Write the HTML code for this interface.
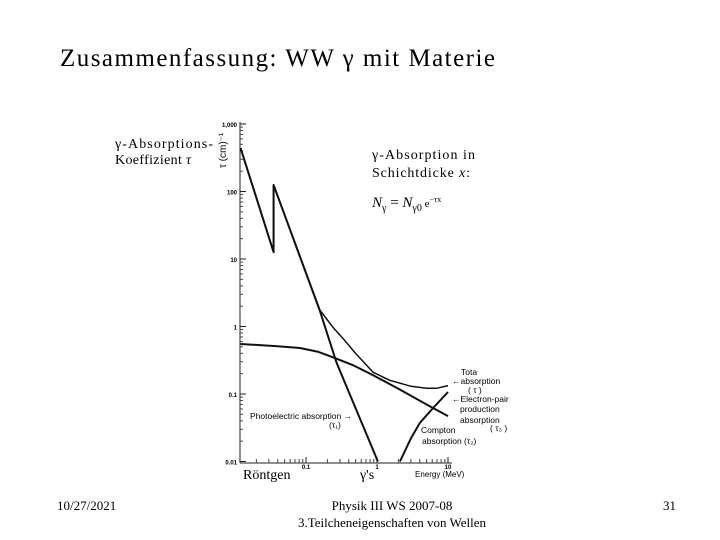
<!DOCTYPE html>
<html><head><meta charset="utf-8"><style>
body{margin:0;background:#fff;}
svg{display:block;font-family:"Liberation Serif",serif;}
.s{font-family:"Liberation Sans",sans-serif;}
</style></head><body>
<svg id="c" width="720" height="540" viewBox="0 0 720 540">
<text x="60" y="66" font-size="25" textLength="435">Zusammenfassung: WW γ mit Materie</text>
<text x="115" y="148" font-size="14" textLength="98">γ-Absorptions-</text>
<text x="115" y="164" font-size="14" textLength="76">Koeffizient <tspan font-style="italic">τ</tspan></text>
<text x="0" y="0" font-size="10" class="s" transform="translate(226,168) rotate(-90)">τ (cm)⁻¹</text>
<text x="372" y="159" font-size="14" textLength="103">γ-Absorption in</text>
<text x="372" y="177" font-size="14" textLength="98">Schichtdicke <tspan font-style="italic">x</tspan>:</text>
<text x="372" y="207" font-size="15"><tspan font-style="italic">N</tspan><tspan font-size="10" dy="4">γ</tspan><tspan dy="-4"> = </tspan><tspan font-style="italic">N</tspan><tspan font-size="10" dy="4">γ0</tspan><tspan dy="-4" font-size="11"> e</tspan><tspan font-size="8" dy="-5">−τx</tspan></text>
<g id="axes"></g>
<g id="curves"></g>
<g class="s" font-size="8.5">
<text x="461" y="375">Tota</text>
<text x="452" y="384">←absorption</text>
<text x="468" y="393">( τ )</text>
<text x="452" y="402">←Electron-pair</text>
<text x="460" y="412">production</text>
<text x="460" y="423">absorption</text>
<text x="490" y="431">( τ₃ )</text>
<text x="421" y="433">Compton</text>
<text x="422" y="444">absorption (τ₂)</text>
<text x="250" y="419">Photoelectric absorption →</text>
<text x="329" y="428">(τ₁)</text>
<text x="415" y="477" font-size="8">Energy (MeV)</text>
</g>
<text x="243" y="479" font-size="14">Röntgen</text>
<text x="360" y="479" font-size="14">γ's</text>
<text x="57" y="510" font-size="13">10/27/2021</text>
<text x="392" y="510" font-size="13" text-anchor="middle">Physik III WS 2007-08</text>
<text x="392" y="527" font-size="13" text-anchor="middle">3.Teilcheneigenschaften von Wellen</text>
<text x="663" y="510" font-size="13">31</text>
</svg>
<script>
const yTicks=[1000,100,10,1,0.1,0.01];
const yTickLabels=["1,000","100","10","1","0.1","0.01"];
const xTicks=[0.1,1,10];
const xTickLabels=["0.1","1","10"];
const photoE=[0.012,0.035,0.035,0.157,0.27,1.03];
const photoT=[440,12.6,125,1.7,0.29,0.01];
const totalE=[0.012,0.035,0.035,0.157,0.2,0.25,0.33,0.5,0.88,1.5,3,5,7,10];
const totalT=[440,12.6,125,1.75,1.25,0.92,0.67,0.4,0.21,0.16,0.13,0.122,0.122,0.133];
const comptonE=[0.012,0.04,0.082,0.15,0.24,0.45,0.88,2,5,10];
const comptonT=[0.55,0.51,0.48,0.42,0.35,0.27,0.19,0.12,0.07,0.047];
const pairE=[2.1,3,4,6,10];
const pairT=[0.01,0.022,0.037,0.06,0.107];
const NS="http://www.w3.org/2000/svg";
const X=e=>306+(Math.log10(e)+1)*71;
const Y=t=>124+(3-Math.log10(t))*67.5;
const ax=document.getElementById('axes');
function mk(tag,a,p){const el=document.createElementNS(NS,tag);for(const k in a)el.setAttribute(k,a[k]);p.appendChild(el);return el;}
const yl=mk('line',{x1:240,y1:122,x2:240,y2:463,stroke:'#222','stroke-width':1},ax);


const xl=mk('line',{x1:240,y1:463,x2:452,y2:463,stroke:'#222','stroke-width':1},ax);


yTicks.forEach((v,i)=>{
  const y=Y(v);
  mk('line',{x1:240,y1:y,x2:246,y2:y,stroke:'#222'},ax);
  if(i<yTicks.length-1)for(let m=2;m<10;m++){const yy=Y(v/10*m);mk('line',{x1:240,y1:yy,x2:243,y2:yy,stroke:'#444'},ax);}
  const t=mk('text',{x:237,y:y+3,'font-size':6,'text-anchor':'end',class:'s','font-weight':'bold'},ax);
  t.textContent=yTickLabels[i];
  
  
});
xTicks.forEach((v,i)=>{
  const x=X(v);
  mk('line',{x1:x,y1:463,x2:x,y2:457,stroke:'#222'},ax);
  for(let m=2;m<10;m++){const xx=X(v/10*m);if(xx>=240)mk('line',{x1:xx,y1:463,x2:xx,y2:459,stroke:'#444'},ax);}
  const t=mk('text',{x:x,y:469,'font-size':6,'text-anchor':'middle',class:'s','font-weight':'bold'},ax);
  t.textContent=xTickLabels[i];
  
  
});
const cg=document.getElementById('curves');
function curve(E,T,name,w){
  const d=E.map((e,i)=>(i?'L':'M')+X(e).toFixed(1)+','+Y(T[i]).toFixed(1)).join(' ');
  const p=mk('path',{d:d,fill:'none',stroke:'#111','stroke-width':w,'stroke-linejoin':'round'},cg);
  
  
}
curve(photoE,photoT,'photoelectric-curve',2);
curve(totalE,totalT,'total-absorption-curve',1.5);
curve(comptonE,comptonT,'compton-curve',2);
curve(pairE,pairT,'pair-production-curve',2);
</script>
</body></html>
